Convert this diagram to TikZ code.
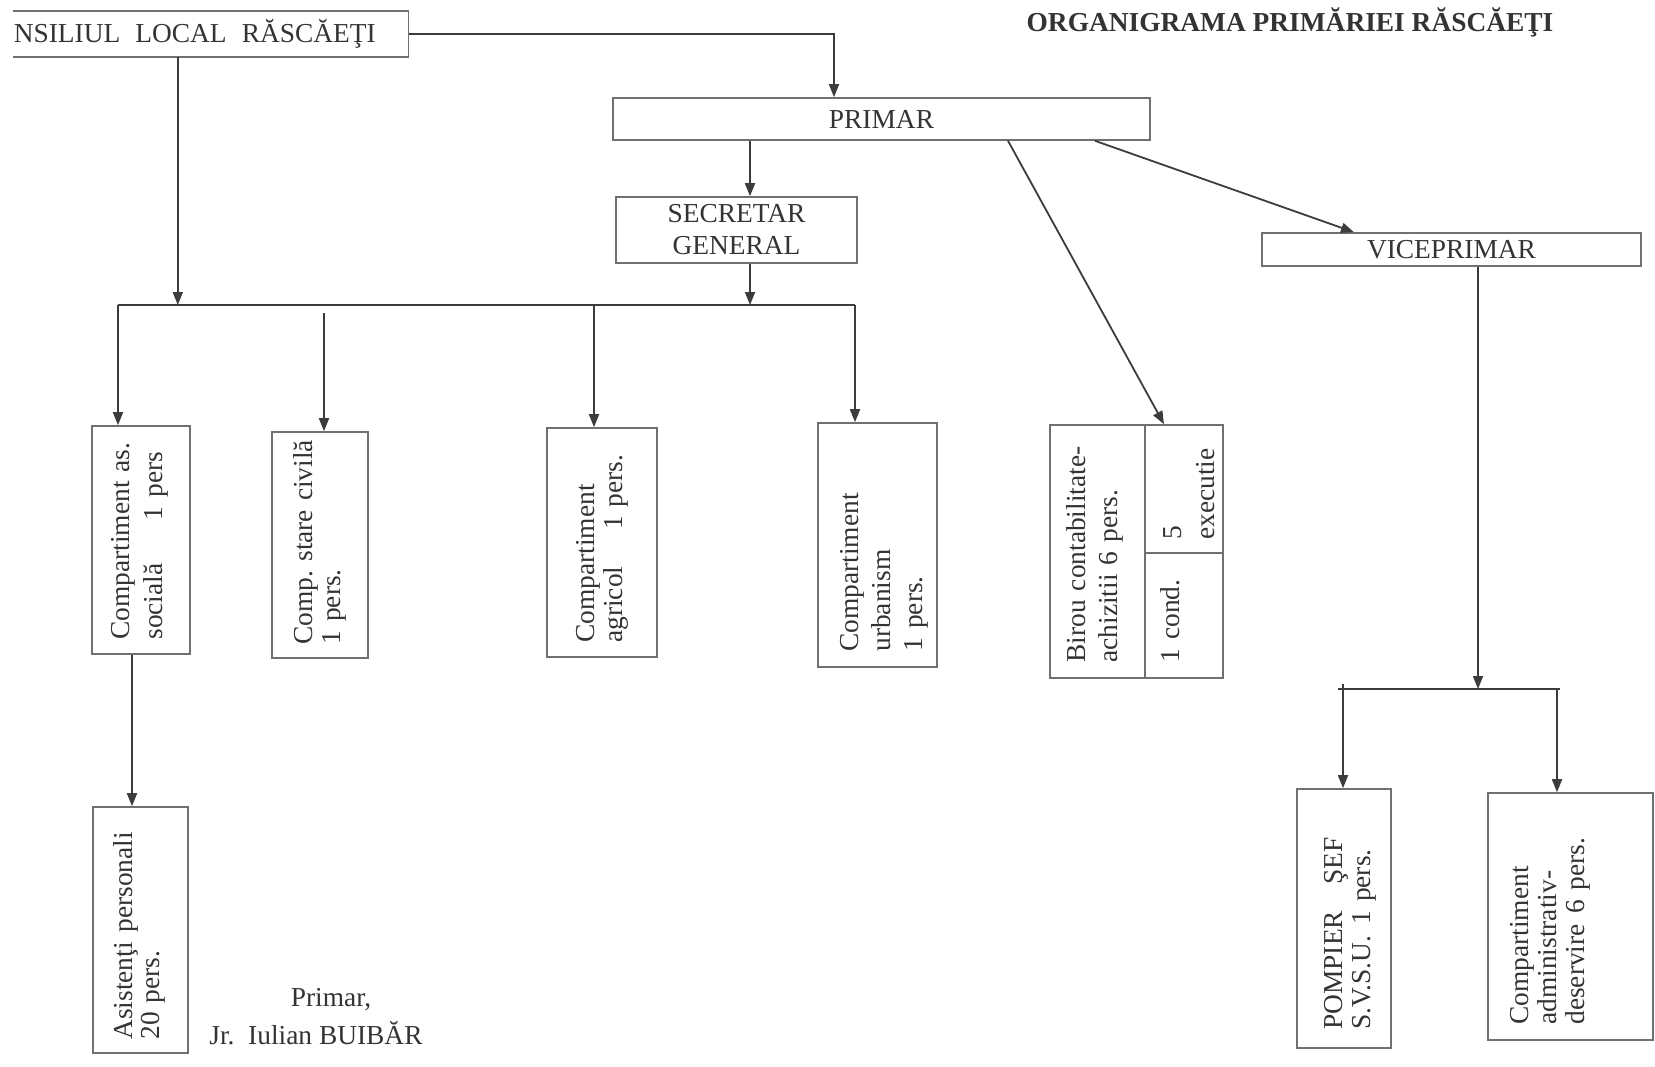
\documentclass[tikz,border=0pt]{standalone}
\usepackage{fontspec}
\setmainfont{Liberation Serif}
\usetikzlibrary{arrows.meta}
\definecolor{ink}{HTML}{333333}
\definecolor{lin}{HTML}{3C3C3C}
\definecolor{brd}{HTML}{707070}
\newcommand{\fs}{\fontsize{13.7pt}{16.4pt}\selectfont}
\newcommand{\fsb}[1]{\fontsize{13.7pt}{#1}\selectfont}
\frenchspacing
\begin{document}
\begin{tikzpicture}[x=0.5pt,y=-0.5pt,
  arr/.style={draw=lin, line width=0.9pt, -{Triangle[length=6.5pt,width=5pt]}},
  conn/.style={draw=lin, line width=0.9pt},
  bline/.style={draw=brd, line width=0.8pt},
  hbox/.style={draw=brd, line width=0.8pt, inner sep=0pt, font=\fs, text=ink, align=center},
  bx/.style={draw=brd, line width=0.8pt, inner sep=0pt},
  vtext/.style={rotate=90, inner sep=0pt, anchor=base west, align=left, text=ink, text width=150pt},
]
\useasboundingbox (0,0) rectangle (1655,1066);

% top boxes
\node[hbox, draw=none, anchor=west, text width=197pt, align=left, minimum height=22pt] (cl) at (13,34) {NSILIUL\hspace{0.55em}LOCAL\hspace{0.55em}RĂSCĂEŢI};
\draw[bline] (cl.north west) -- (cl.north east) -- (cl.south east) -- (cl.south west);
\node[font=\fs\bfseries, text=ink, inner sep=0pt] (title) at (1290,22) {ORGANIGRAMA PRIMĂRIEI RĂSCĂEŢI};
\node[hbox, minimum width=268.5pt, minimum height=21pt] (primar) at (881.5,119) {PRIMAR};
\node[hbox, minimum width=120.5pt, minimum height=33pt, font=\fsb{16pt}] (secretar) at (736.5,230) {SECRETAR\\GENERAL};
\node[hbox, minimum width=189.5pt, minimum height=16.5pt] (vice) at (1451.5,249.5) {VICEPRIMAR};

% vertical boxes
\node[bx, minimum width=49pt, minimum height=114pt] (asbox) at (141,540) {};
\node[bx, minimum width=48pt, minimum height=113pt] (civbox) at (320,545) {};
\node[bx, minimum width=55pt, minimum height=114.5pt] (agrbox) at (602,542.5) {};
\node[bx, minimum width=59.5pt, minimum height=122pt] (urbbox) at (877.5,545) {};
\node[bx, minimum width=86.5pt, minimum height=126.5pt] (birou) at (1136.5,551.5) {};
\node[bx, minimum width=47.5pt, minimum height=123pt] (asist) at (140.5,930) {};
\node[bx, minimum width=47pt, minimum height=129.5pt] (pomp) at (1344,918.5) {};
\node[bx, minimum width=82.5pt, minimum height=123.5pt] (adm) at (1570.5,916.5) {};

\coordinate (bdiv) at (1145,553);
\draw[bline] (bdiv |- birou.north) -- (bdiv |- birou.south);
\draw[bline] (bdiv) -- (bdiv -| birou.east);

% vertical texts
\node[vtext, font=\fsb{16.5pt}] (astx) at (129,640) {Compartiment as.\\\makebox[94pt]{socială\hfill 1 pers}};
\node[vtext, font=\fsb{14pt}] (civtx) at (312,645) {Comp. stare civilă\\1 pers.};
\node[vtext, font=\fsb{14pt}] (agrtx) at (594,643) {Compartiment\\\makebox[94pt]{agricol\hfill 1 pers.}};
\node[vtext, font=\fsb{16pt}] (urbtx) at (858,652) {Compartiment\\urbanism\\1 pers.};
\node[vtext, font=\fsb{16pt}] (birtx) at (1085,663) {Birou contabilitate-\\achizitii 6 pers.};
\node[vtext, font=\fsb{16pt}] (condtx) at (1179,663) {1 cond.};
\node[vtext, font=\fsb{16.5pt}] (exectx) at (1181,540) {5\\executie};
\node[vtext, font=\fsb{13.5pt}] (asisttx) at (132,1040) {Asistenţi\hspace{0.35em}personali\\20 pers.};
\node[vtext, font=\fsb{14pt}] (pomptx) at (1342,1030) {\makebox[96pt]{POMPIER\hfill ŞEF}\\S.V.S.U.\hspace{0.4em}1 pers.};
\node[vtext, font=\fsb{14pt}] (admtx) at (1528,1025) {Compartiment\\administrativ-\\deservire\hspace{0.4em}6 pers.};

% signature
\node[font=\fs, text=ink, inner sep=0pt] (sig1) at (331,1000) {Primar,};
\node[font=\fs, text=ink, inner sep=0pt] (sig2) at (316,1033) {Jr.\hspace{0.5em}Iulian BUIBĂR};

% connectors
\coordinate (busL) at (118,305);
\coordinate (busR) at (855,305);
\draw[arr] (cl.east) -| ([xshift=-23.75pt]primar.north);
\coordinate (clx) at ([xshift=-16.5pt]cl.south);
\draw[arr] (clx) -- (clx |- busL);
\draw[conn] (busL) -- (busR);
\coordinate (sx) at ([xshift=6.75pt]secretar.north);
\draw[arr] (sx |- primar.south) -- (sx);
\draw[arr] (sx |- secretar.south) -- (sx |- busL);
\draw[arr] (busL) -- (busL |- asbox.north);
\coordinate (civtop) at (324,313);
\draw[arr] (civtop) -- (civtop |- civbox.north);
\coordinate (agrx) at (594,305);
\draw[arr] (agrx) -- (agrx |- agrbox.north);
\draw[arr] (busR) -- (busR |- urbbox.north);
\draw[arr] ([xshift=63.25pt]primar.south) -- ([xshift=13.75pt]birou.north);
\draw[arr] ([xshift=106.75pt]primar.south) -- ([xshift=-48.75pt]vice.north);
\coordinate (vx) at ([xshift=13.25pt]vice.south);
\coordinate (b2L) at (1338,689);
\coordinate (b2R) at (1560,689);
\draw[conn] (b2L) -- (b2R);
\draw[arr] (vx) -- (vx |- b2L);
\coordinate (pmx) at (1343,684);
\draw[arr] (pmx) -- (pmx |- pomp.north);
\coordinate (adx) at (1557,689);
\draw[arr] (adx) -- (adx |- adm.north);
\coordinate (asx) at (132,654);
\draw[arr] (asx |- asbox.south) -- (asx |- asist.north);
\end{tikzpicture}
\end{document}
